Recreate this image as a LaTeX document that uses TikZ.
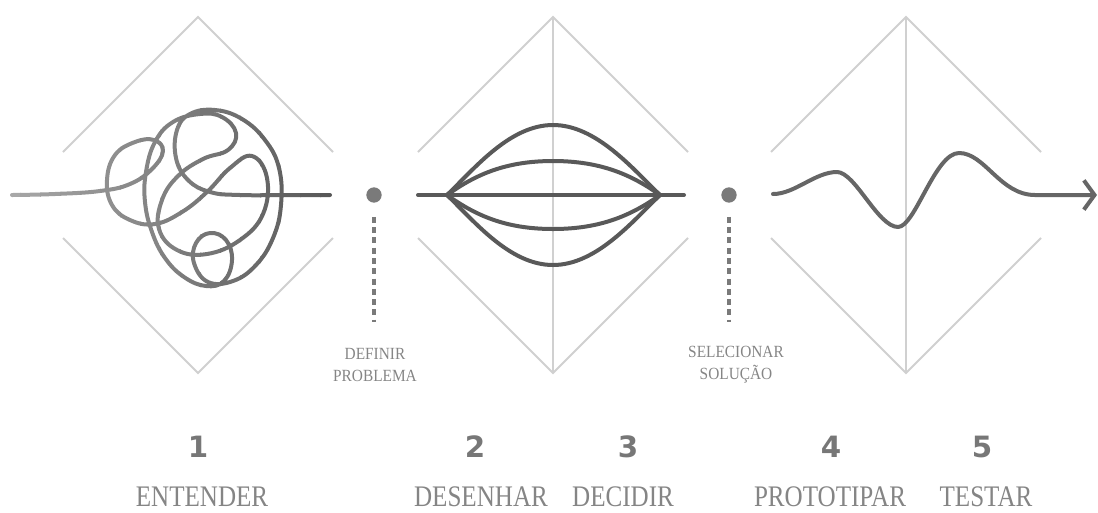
\documentclass[tikz,border=0pt]{standalone}
\usepackage{fontspec}
\setmainfont{Liberation Serif}
\newfontfamily\numfont{DejaVu Sans}
\newfontfamily\stagefont{Liberation Serif}[FakeStretch=0.84]
\newfontfamily\gatefont{Liberation Serif}[FakeStretch=0.9]
\usetikzlibrary{arrows.meta}

\definecolor{kitegray}{HTML}{D0D0D0}
\definecolor{linegray}{HTML}{595959}
\definecolor{wavegray}{HTML}{666666}
\definecolor{dotgray}{HTML}{7A7A7A}
\definecolor{numgray}{HTML}{777777}
\definecolor{textgray}{HTML}{858585}

% the scribble of the first stage
\newcommand{\tangle}{plot[smooth, tension=0.7] coordinates {
  (12,195) (55,194) (100,191)
  (130,184) (152,169) (163,151) (154,140) (135,142) (115,155) (107,180)
  (112,205) (130,220) (155,224)
  (182,212) (207,192) (230,168)
  (252,156) (267,178) (263,214) (240,240) (207,254) (177,250) (159,229)
  (162,200) (178,176) (203,159) (228,150)
  (236,133) (222,117) (200,114)
  (173,122) (155,142) (146,172) (145,202) (152,232) (165,258) (184,277) (206,286)
  (224,281) (232,260) (226,240) (210,233) (196,243) (194,263) (208,282)
  (233,281) (256,265) (273,238) (281,205) (279,168) (265,140) (242,119) (215,110)
  (190,114) (177,130) (176,158) (188,180) (210,192) (240,195) (290,195) (330,195)}}

\begin{document}
\begin{tikzpicture}[
  x=0.75pt, y=-0.75pt,
  kite/.style={draw=kitegray, line width=1.5pt},
  curve/.style={line width=3pt, line cap=round, line join=round},
  dot/.style={circle, fill=dotgray, inner sep=0pt, minimum size=11.5pt},
  drop/.style={draw=dotgray, line width=2.3pt, dash pattern=on 4.5pt off 3.2pt,
               shorten <=10.5pt},
  gate/.style={font=\gatefont\fontsize{12.8}{16.5}\selectfont, text=textgray, align=center},
  num/.style={font=\numfont\bfseries\fontsize{22}{24}\selectfont, text=numgray},
  stage/.style={font=\stagefont\fontsize{22.4}{24}\selectfont, text=textgray}
]
  \useasboundingbox (0,0) rectangle (1098,512);

  % diamonds
  \foreach \cx in {198,553,906} {
    \draw[kite] (\cx-135,152) -- (\cx,17) -- (\cx+135,152);
    \draw[kite] (\cx-135,238) -- (\cx,373) -- (\cx+135,238);
  }
  \foreach \cx in {553,906}
    \draw[kite] (\cx,17) -- (\cx,373);

  % 1: tangle, lighter on the left
  \foreach \i in {0,...,16} {
    \pgfmathsetmacro\tone{34+2*\i}
    \begin{scope}
      \clip ({20*\i},80) rectangle ({20*\i+21},300);
      \draw[curve, draw=black!\tone] \tangle;
    \end{scope}
  }

  % 2-3: spread and merge
  \coordinate (pinchL) at (447,195);
  \coordinate (pinchR) at (660,195);
  \draw[curve, draw=linegray] (418,195) -- (684,195);
  \draw[curve, draw=linegray] (pinchL) .. controls (475,168) and (510,125) .. (553,125)
    .. controls (596,125) and (632,168) .. (pinchR);
  \draw[curve, draw=linegray] (pinchL) .. controls (475,175) and (505,161) .. (553,161)
    .. controls (601,161) and (632,175) .. (pinchR);
  \draw[curve, draw=linegray] (pinchL) .. controls (475,215) and (505,229) .. (553,229)
    .. controls (601,229) and (632,215) .. (pinchR);
  \draw[curve, draw=linegray] (pinchL) .. controls (475,222) and (510,265) .. (553,265)
    .. controls (596,265) and (632,222) .. (pinchR);

  % 4-5: test wave
  \coordinate (waveIn) at (773,194);
  \coordinate (waveOut) at (1097,195);
  \draw[curve, draw=wavegray, -{Straight Barb[length=8pt, width=22pt]}] (waveIn)
    .. controls (795,194) and (815,172) .. (837,172)
    .. controls (855,172) and (878,227) .. (898,227)
    .. controls (915,227) and (935,153) .. (959,153)
    .. controls (985,153) and (1000,195) .. (1035,195) -- (waveOut);

  % decision points
  \node[dot] (pick1) at (374,195) {};
  \coordinate (pick1end) at (374,322);
  \draw[drop] (pick1) -- (pick1end);
  \node[gate] (defl) at (375,365) {DEFINIR\\PROBLEMA};

  \node[dot] (pick2) at (729,195) {};
  \coordinate (pick2end) at (729,322);
  \draw[drop] (pick2) -- (pick2end);
  \node[gate] (sell) at (736,365) {SELECIONAR\\SOLUÇÃO};

  % stages
  \node[num] (n1) at (198,447) {1};
  \node[num] (n2) at (475,447) {2};
  \node[num] (n3) at (628,447) {3};
  \node[num] (n4) at (831,447) {4};
  \node[num] (n5) at (982,447) {5};
  \node[stage] (s1) at (202,497) {ENTENDER};
  \node[stage] (s2) at (481,497) {DESENHAR};
  \node[stage] (s3) at (623,497) {DECIDIR};
  \node[stage] (s4) at (830,497) {PROTOTIPAR};
  \node[stage] (s5) at (986,497) {TESTAR};
\end{tikzpicture}
\end{document}
